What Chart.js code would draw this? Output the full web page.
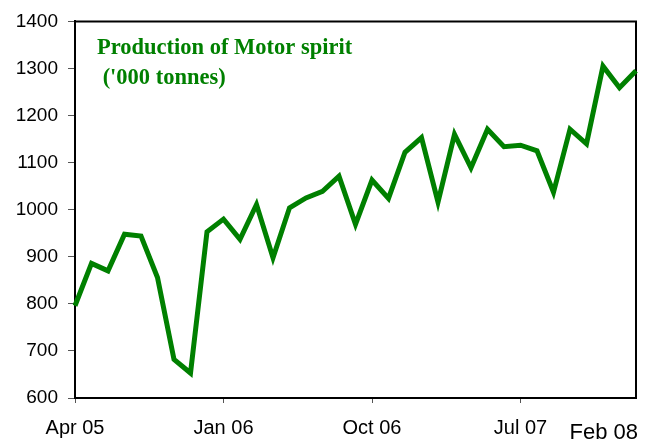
<!DOCTYPE html>
<html>
<head>
<meta charset="utf-8">
<script src="https://cdn.jsdelivr.net/npm/chart.js@4/dist/chart.umd.min.js"></script>
<style>
  html, body { margin: 0; padding: 0; background: #fff; }
  #wrap { width: 649px; height: 441px; position: relative; }
</style>
</head>
<body>
<div id="wrap"><canvas id="motorSpirit"></canvas></div>
<script>
// monthly categories, Apr 2005 .. Feb 2008
const MONTHS = [
    'Apr 05', 'May 05', 'Jun 05', 'Jul 05', 'Aug 05', 'Sep 05', 'Oct 05', 'Nov 05', 'Dec 05',
    'Jan 06', 'Feb 06', 'Mar 06', 'Apr 06', 'May 06', 'Jun 06', 'Jul 06', 'Aug 06', 'Sep 06',
    'Oct 06', 'Nov 06', 'Dec 06',
    'Jan 07', 'Feb 07', 'Mar 07', 'Apr 07', 'May 07', 'Jun 07', 'Jul 07', 'Aug 07', 'Sep 07',
    'Oct 07', 'Nov 07', 'Dec 07',
    'Jan 08', 'Feb 08'
];

// production, '000 tonnes
const PRODUCTION = [
    796, 886, 870, 948, 944, 856, 682, 653, 953,
    980, 937, 1011, 898, 1004, 1025, 1039, 1071, 969,
    1063, 1024, 1122,
    1153, 1016, 1160, 1089, 1171, 1134, 1137, 1125, 1037,
    1171, 1140, 1305,
    1259, 1295
];

const X_TICKS = ['Apr 05', 'Jan 06', 'Oct 06', 'Jul 07'];
const LAST_LABEL = 'Feb 08';
const Y_TICKS = [600, 700, 800, 900, 1000, 1100, 1200, 1300, 1400];
const TITLE_LINES = ['Production of Motor spirit', " ('000 tonnes)"];

const GREEN = '#008000';
const SANS = "'Liberation Sans', Arial, sans-serif";
const SERIF = "'Liberation Serif', 'Times New Roman', serif";

// box on top/right + title inside the plot + last x label pushed right
const framePlugin = {
    id: 'frame',
    beforeDatasetsDraw(chart) {
        const { ctx, chartArea: a } = chart;
        ctx.save();
        ctx.strokeStyle = '#000';
        ctx.lineWidth = 2;
        ctx.beginPath();
        ctx.moveTo(a.left, a.top);
        ctx.lineTo(a.right, a.top);
        ctx.lineTo(a.right, a.bottom);
        ctx.stroke();

        ctx.fillStyle = GREEN;
        ctx.font = `bold 22.5px ${SERIF}`;
        ctx.textAlign = 'left';
        ctx.textBaseline = 'alphabetic';
        ctx.fillText(TITLE_LINES[0], 97, 54);
        ctx.fillText(TITLE_LINES[1], 97, 84);
        ctx.restore();
    },
    afterDraw(chart) {
        const { ctx } = chart;
        const x = chart.scales.x.getPixelForValue(MONTHS.indexOf(LAST_LABEL));
        ctx.save();
        ctx.fillStyle = '#000';
        ctx.font = `22px ${SANS}`;
        ctx.textAlign = 'right';
        ctx.textBaseline = 'alphabetic';
        ctx.fillText(LAST_LABEL, x + 2, 439);
        ctx.restore();
    }
};

new Chart(document.getElementById('motorSpirit'), {
    type: 'line',
    plugins: [framePlugin],
    data: {
        labels: MONTHS,
        datasets: [{
            data: PRODUCTION,
            borderColor: GREEN,
            borderWidth: 5,
            tension: 0,
            pointRadius: 0,
            fill: false
        }]
    },
    options: {
        responsive: true,
        maintainAspectRatio: false,
        animation: false,
        layout: { padding: { top: 19, right: 12, left: 0, bottom: 0 } },
        plugins: {
            legend: { display: false },
            tooltip: { enabled: false }
        },
        scales: {
            x: {
                type: 'category',
                offset: false,
                border: { color: '#000', width: 2 },
                grid: {
                    drawOnChartArea: false,
                    drawTicks: true,
                    tickLength: 5,
                    color: c => X_TICKS.includes(MONTHS[c.index]) ? '#555' : 'rgba(0,0,0,0)'
                },
                ticks: {
                    autoSkip: false,
                    maxRotation: 0,
                    padding: 13,
                    color: '#000',
                    font: { family: SANS, size: 20 },
                    callback: (v, i) => X_TICKS.includes(MONTHS[i]) ? MONTHS[i] : ''
                },
                afterFit: s => { s.height = 43; }
            },
            y: {
                min: 600,
                max: 1400,
                border: { color: '#000', width: 2 },
                grid: {
                    drawOnChartArea: false,
                    drawTicks: true,
                    tickLength: 7,
                    color: '#555'
                },
                afterBuildTicks: s => { s.ticks = Y_TICKS.map(v => ({ value: v })); },
                ticks: {
                    padding: 10,
                    color: '#000',
                    font: { family: SANS, size: 19 },
                    callback: v => String(v)
                },
                afterFit: s => { s.width = 75; }
            }
        }
    }
});
</script>
</body>
</html>
